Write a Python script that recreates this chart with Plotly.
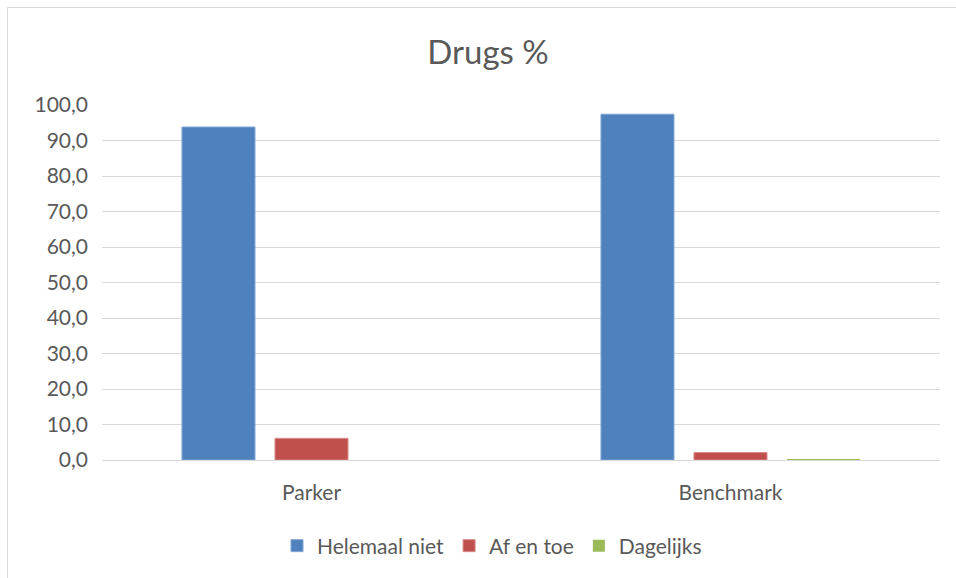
import plotly.graph_objects as go

categories = ["Parker", "Benchmark"]
series_names = ["Helemaal niet", "Af en toe", "Dagelijks"]
helemaal_niet = [93.8, 97.4]
af_en_toe = [6.1, 2.1]
dagelijks = [0.0, 0.2]
colors = ["#4F81BD", "#C0504D", "#9BBB59"]
edge_colors = ["#7FA6D6", "#D98A88", "#BFD69A"]
edge_widths = [1, 1, 0]
y_ticks = [0, 10, 20, 30, 40, 50, 60, 70, 80, 90, 100]

W, H = 956, 578
L, R, T, B = 102, 16, 105, 118
pw, ph = W - L - R, H - T - B

def px_x(p):
    return (p - L) / pw

def px_y(p):
    return (H - B - p) / ph

fig = go.Figure()
for name, vals, c, ec, ew in zip(series_names, [helemaal_niet, af_en_toe, dagelijks], colors, edge_colors, edge_widths):
    fig.add_trace(go.Bar(name=name, x=categories, y=vals, marker=dict(color=c, line=dict(color=ec, width=ew))))

fig.update_layout(
    width=W, height=H,
    margin=dict(l=L, r=R, t=T, b=B),
    paper_bgcolor="white", plot_bgcolor="white",
    separators=",.",
    font=dict(family="Lato, Open Sans, sans-serif", color="#595959", size=21),
    title=dict(text="Drugs %", x=488 / W, xanchor="center", y=1 - 52 / H, yanchor="middle",
               font=dict(size=33, color="#595959")),
    barmode="group", bargap=0.334, bargroupgap=0.215,
    showlegend=True,
    legend=dict(orientation="h", x=px_x(492), xanchor="center", y=px_y(546), yanchor="middle",
                font=dict(size=21, color="#595959"), traceorder="normal", itemwidth=30),
    shapes=[
        dict(type="rect", xref="paper", yref="paper", x0=px_x(7.5), x1=px_x(970), y0=px_y(7.5), y1=px_y(590),
             line=dict(color="#D9D9D9", width=1), fillcolor="rgba(0,0,0,0)", layer="below"),
    ],
)
fig.update_yaxes(range=[0, 100], tickvals=y_ticks, tickformat=".1f", showgrid=True, gridcolor="#D9D9D9",
                 gridwidth=1, zeroline=False, showline=False, ticks="", ticklabelstandoff=13,
                 tickfont=dict(size=21, color="#595959"))
fig.update_xaxes(showline=True, linecolor="#D9D9D9", linewidth=1, ticks="", ticklabelstandoff=14,
                 tickfont=dict(size=21, color="#595959"))

fig.write_html("out.html")
